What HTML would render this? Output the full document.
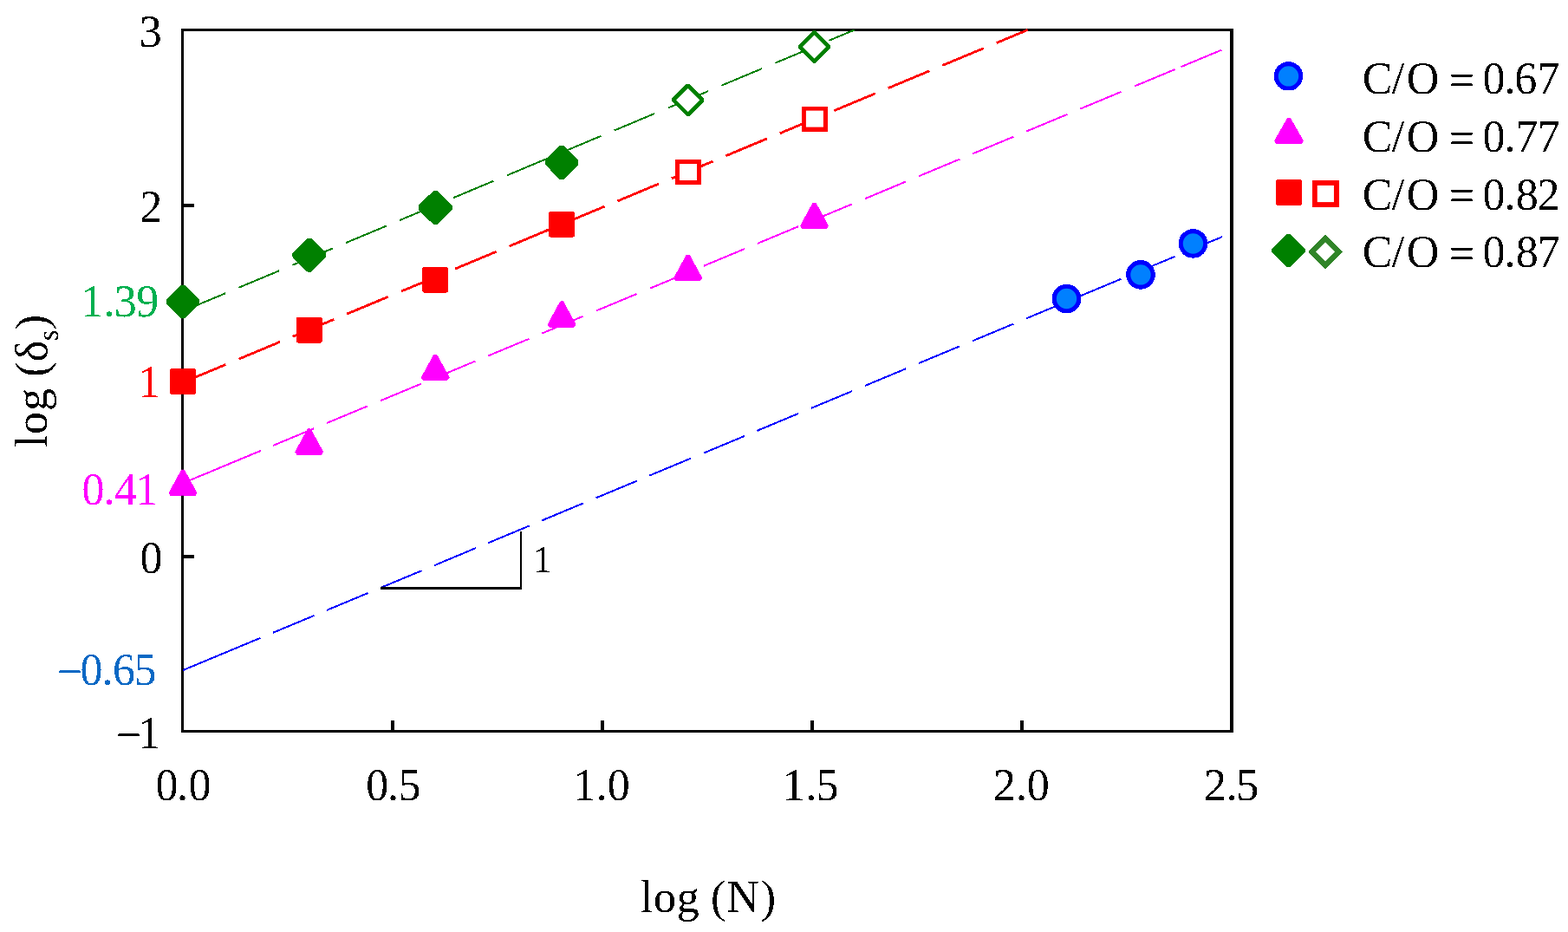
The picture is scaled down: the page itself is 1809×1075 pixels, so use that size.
<!DOCTYPE html>
<html><head><meta charset="utf-8"><title>log(delta_s) vs log(N)</title>
<style>
html,body{margin:0;padding:0;background:#fff;}
body{width:1809px;height:1075px;overflow:hidden;}
svg{display:block;font-family:"Liberation Serif", "DejaVu Serif", serif;}
</style></head>
<body>
<svg width="1809" height="1075" viewBox="0 0 1809 1075">
<defs><filter id="alias" x="0" y="0" width="100%" height="100%" filterUnits="userSpaceOnUse" color-interpolation-filters="sRGB"><feComponentTransfer><feFuncA type="discrete" tableValues="0 1"/></feComponentTransfer></filter></defs>
<rect width="1809" height="1075" fill="#fff"/>
<g filter="url(#alias)">
<path d="M1421 34.5H210.5V843.5H1421" fill="none" stroke="#000" stroke-width="3"/>
<path d="M1421 33V845" fill="none" stroke="#000" stroke-width="4"/>
<path d="M212 237H224M212 642H224M453 842V831M695 842V831M937 842V831M1179 842V831" stroke="#000" stroke-width="4" fill="none"/>
<path d="M213.5 357.8L260.0 338.3M275.4 331.8L321.9 312.4M337.3 305.9L383.8 286.5M399.2 280.0L445.7 260.6M461.1 254.1L507.6 234.6M523.0 228.2L569.5 208.7M584.9 202.3L631.4 182.8M646.8 176.4L693.3 156.9M708.7 150.5L755.2 131.0M770.6 124.6L817.1 105.1M832.5 98.6L879.0 79.2M894.4 72.7L940.9 53.3M956.3 46.8L985.8 34.5" stroke="#008000" stroke-width="2" fill="none" shape-rendering="crispEdges"/>
<path d="M212.9 440.3L260.4 420.5M275.4 414.2L322.9 394.4M337.8 388.2L385.3 368.4M400.3 362.1L447.8 342.3M462.8 336.1L510.2 316.3M525.2 310.0L572.7 290.2M587.6 284.0L635.1 264.1M650.1 257.9L697.6 238.1M712.5 231.9L760.0 212.0M775.0 205.8L822.5 186.0M837.5 179.7L885.0 159.9M899.9 153.7L947.4 133.9M962.4 127.6L1009.9 107.8M1024.8 101.6L1072.3 81.8M1087.2 75.5L1134.8 55.7M1149.7 49.5L1185.6 34.5" stroke="#ff0000" stroke-width="2.8" fill="none" shape-rendering="crispEdges"/>
<path d="M211.0 557.3L237.8 546.1M252.9 539.8L299.9 520.2M315.0 513.9L362.0 494.3M377.1 488.0L424.1 468.4M439.2 462.1L486.2 442.5M501.3 436.2L548.3 416.6M563.4 410.3L610.4 390.8M625.5 384.5L672.5 364.9M687.6 358.6L734.6 339.0M749.7 332.7L796.7 313.1M811.8 306.8L858.8 287.2M873.9 280.9L920.9 261.3M936.0 255.0L983.0 235.4M998.1 229.1L1045.1 209.5M1060.2 203.2L1107.2 183.6M1122.3 177.3L1169.3 157.7M1184.4 151.4L1231.4 131.8M1246.5 125.5L1293.5 105.9M1308.6 99.6L1355.6 80.0M1370.7 73.7L1409.2 57.7M211.0 557.3L300.8 519.9M1362.4 77.2L1409.2 57.7" stroke="#ff00ff" stroke-width="2" fill="none" shape-rendering="crispEdges"/>
<path d="M211.0 773.1L238.5 761.6M253.0 755.6L300.5 735.8M315.1 729.7L362.6 709.9M377.2 703.8L424.7 684.0M439.2 677.9L486.7 658.1M501.3 652.1L548.8 632.2M563.3 626.2L610.8 606.4M625.4 600.3L672.9 580.5M687.5 574.4L735.0 554.6M749.5 548.5L797.0 528.7M811.6 522.7L859.1 502.9M873.6 496.8L921.1 477.0M935.7 470.9L983.2 451.1M997.8 445.0L1045.3 425.2M1059.8 419.1L1107.3 399.3M1121.9 393.3L1169.4 373.5M1183.9 367.4L1231.4 347.6M1246.0 341.5L1293.5 321.7M1308.1 315.6L1355.6 295.8M1370.1 289.7L1409.9 273.2M211.0 773.1L300.5 735.8" stroke="#0000ff" stroke-width="2" fill="none" shape-rendering="crispEdges"/>
<path d="M438.6 678.35H601.8" stroke="#000" stroke-width="3" fill="none"/>
<path d="M600.8 679.8V613.2" stroke="#000" stroke-width="2" fill="none"/>
<polygon points="211.00,542.88 225.61,569.60 196.39,569.60" fill="#ff00ff" stroke="#ff00ff" stroke-width="4.3" stroke-linejoin="bevel"/>
<polygon points="356.70,495.63 371.31,522.35 342.09,522.35" fill="#ff00ff" stroke="#ff00ff" stroke-width="4.3" stroke-linejoin="bevel"/>
<polygon points="502.20,409.73 516.81,436.45 487.59,436.45" fill="#ff00ff" stroke="#ff00ff" stroke-width="4.3" stroke-linejoin="bevel"/>
<polygon points="648.10,348.63 662.71,375.35 633.49,375.35" fill="#ff00ff" stroke="#ff00ff" stroke-width="4.3" stroke-linejoin="bevel"/>
<polygon points="793.70,294.78 808.31,321.50 779.09,321.50" fill="#ff00ff" stroke="#ff00ff" stroke-width="4.3" stroke-linejoin="bevel"/>
<polygon points="939.50,234.78 954.11,261.50 924.89,261.50" fill="#ff00ff" stroke="#ff00ff" stroke-width="4.3" stroke-linejoin="bevel"/>
<rect x="196.20" y="425.20" width="29.6" height="29.6" rx="1.5" fill="#ff0000"/>
<rect x="341.90" y="365.80" width="29.6" height="29.6" rx="1.5" fill="#ff0000"/>
<rect x="487.40" y="308.00" width="29.6" height="29.6" rx="1.5" fill="#ff0000"/>
<rect x="633.30" y="244.00" width="29.6" height="29.6" rx="1.5" fill="#ff0000"/>
<rect x="781.50" y="186.50" width="25.00" height="24.00" fill="#fff" stroke="#ff0000" stroke-width="5.0"/>
<rect x="927.40" y="125.10" width="25.00" height="24.00" fill="#fff" stroke="#ff0000" stroke-width="5.0"/>
<polygon points="211.00,331.10 227.90,348.00 211.00,364.90 194.10,348.00" fill="#008000" stroke="#008000" stroke-width="6.8" stroke-linejoin="bevel"/>
<polygon points="356.70,277.30 373.60,294.20 356.70,311.10 339.80,294.20" fill="#008000" stroke="#008000" stroke-width="6.8" stroke-linejoin="bevel"/>
<polygon points="502.20,222.60 519.10,239.50 502.20,256.40 485.30,239.50" fill="#008000" stroke="#008000" stroke-width="6.8" stroke-linejoin="bevel"/>
<polygon points="648.10,170.50 665.00,187.40 648.10,204.30 631.20,187.40" fill="#008000" stroke="#008000" stroke-width="6.8" stroke-linejoin="bevel"/>
<polygon points="793.70,98.45 810.65,115.40 793.70,132.35 776.75,115.40" fill="#fff" stroke="#008000" stroke-width="4.75" stroke-linejoin="bevel"/>
<polygon points="939.50,37.05 956.45,54.00 939.50,70.95 922.55,54.00" fill="#fff" stroke="#008000" stroke-width="4.75" stroke-linejoin="bevel"/>
<circle cx="1230.5" cy="344.5" r="14.25" fill="#0080ff" stroke="#0000ff" stroke-width="5.1"/>
<circle cx="1315.95" cy="316.9" r="14.25" fill="#0080ff" stroke="#0000ff" stroke-width="5.1"/>
<circle cx="1376.45" cy="280.95" r="14.25" fill="#0080ff" stroke="#0000ff" stroke-width="5.1"/>
<circle cx="1486.5" cy="87.9" r="14.2" fill="#0080ff" stroke="#0000ff" stroke-width="5"/>
<polygon points="1486.95,136.96 1502.08,163.65 1471.82,163.65" fill="#ff00ff" stroke="#ff00ff" stroke-width="4.3" stroke-linejoin="bevel"/>
<rect x="1472.10" y="206.90" width="29.8" height="29.8" rx="1.5" fill="#ff0000"/>
<rect x="1516.80" y="210.95" width="25.10" height="25.10" fill="#fff" stroke="#ff0000" stroke-width="5.9"/>
<polygon points="1486.50,272.00 1503.40,288.90 1486.50,305.80 1469.60,288.90" fill="#008000" stroke="#008000" stroke-width="6.0" stroke-linejoin="bevel"/>
<polygon points="1529.05,275.00 1544.45,290.40 1529.05,305.80 1513.65,290.40" fill="#fff" stroke="#308428" stroke-width="6.2" stroke-linejoin="miter"/>
<text x="160.77" y="54.4" font-size="52" fill="#000">3</text>
<text x="161.29" y="255.9" font-size="52" fill="#000">2</text>
<text x="161.50" y="661.3" font-size="52" fill="#000">0</text>
<text x="133.76 159.33" y="862.9" dy="2 -2" font-size="52" fill="#000">−1</text>
<text x="93.18 119.45 131.77 157.23" y="365.2" font-size="52" fill="#00b050">1.39</text>
<text x="159.28" y="457.9" font-size="52" fill="#ff0000">1</text>
<text x="94.50 119.55 131.95 156.28" y="581.9" font-size="52" fill="#ff00ff">0.41</text>
<text x="65.81 92.55 117.55 130.11 154.45" y="790.0" dy="2 -2" font-size="52" fill="#0a68c4">−0.65</text>
<text x="179.50 204.10 217.40" y="922.5" font-size="52" fill="#000">0.0</text>
<text x="422.25 446.90 459.50" y="922.5" font-size="52" fill="#000">0.5</text>
<text x="661.18 687.65 700.85" y="922.5" font-size="52" fill="#000">1.0</text>
<text x="902.78 929.25 941.60" y="922.5" font-size="52" fill="#000">1.5</text>
<text x="1146.04 1171.90 1184.65" y="922.5" font-size="52" fill="#000">2.0</text>
<text x="1389.09 1414.75 1426.15" y="922.5" font-size="52" fill="#000">2.5</text>
<text x="738.78 754.00 780.73 806.73 820.04 838.52 877.65" y="1052.1" font-size="52" fill="#000">log (N)</text>
<text transform="translate(53.9 0) rotate(-90)" y="0" font-size="52"><tspan x="-516.02 -501.05 -473.97 -447.97 -434.76 -417.30">log (δ</tspan><tspan x="-393.35" dy="13.4" font-size="33">s</tspan><tspan x="-380.20" dy="-13.4">)</tspan></text>
<text x="614.84" y="660" font-size="44" fill="#000">1</text>
<text x="1571.73 1605.63 1622.82 1660.38 1671.81 1701.14 1710.45 1735.40 1747.26 1773.49" y="108.4" dy="0 0 0 0 1.5 -1.5" font-size="52" fill="#000">C/O = 0.67</text>
<text x="1571.73 1605.63 1622.82 1660.38 1671.81 1701.14 1710.45 1735.40 1748.54 1773.64" y="175.0" dy="0 0 0 0 1.5 -1.5" font-size="52" fill="#000">C/O = 0.77</text>
<text x="1571.73 1605.63 1622.82 1660.38 1671.81 1701.14 1710.45 1735.40 1748.80 1773.39" y="241.6" dy="0 0 0 0 1.5 -1.5" font-size="52" fill="#000">C/O = 0.82</text>
<text x="1571.73 1605.63 1622.82 1660.38 1671.81 1701.14 1710.45 1735.40 1748.80 1773.64" y="308.2" dy="0 0 0 0 1.5 -1.5" font-size="52" fill="#000">C/O = 0.87</text>
</g>
</svg>
</body></html>
